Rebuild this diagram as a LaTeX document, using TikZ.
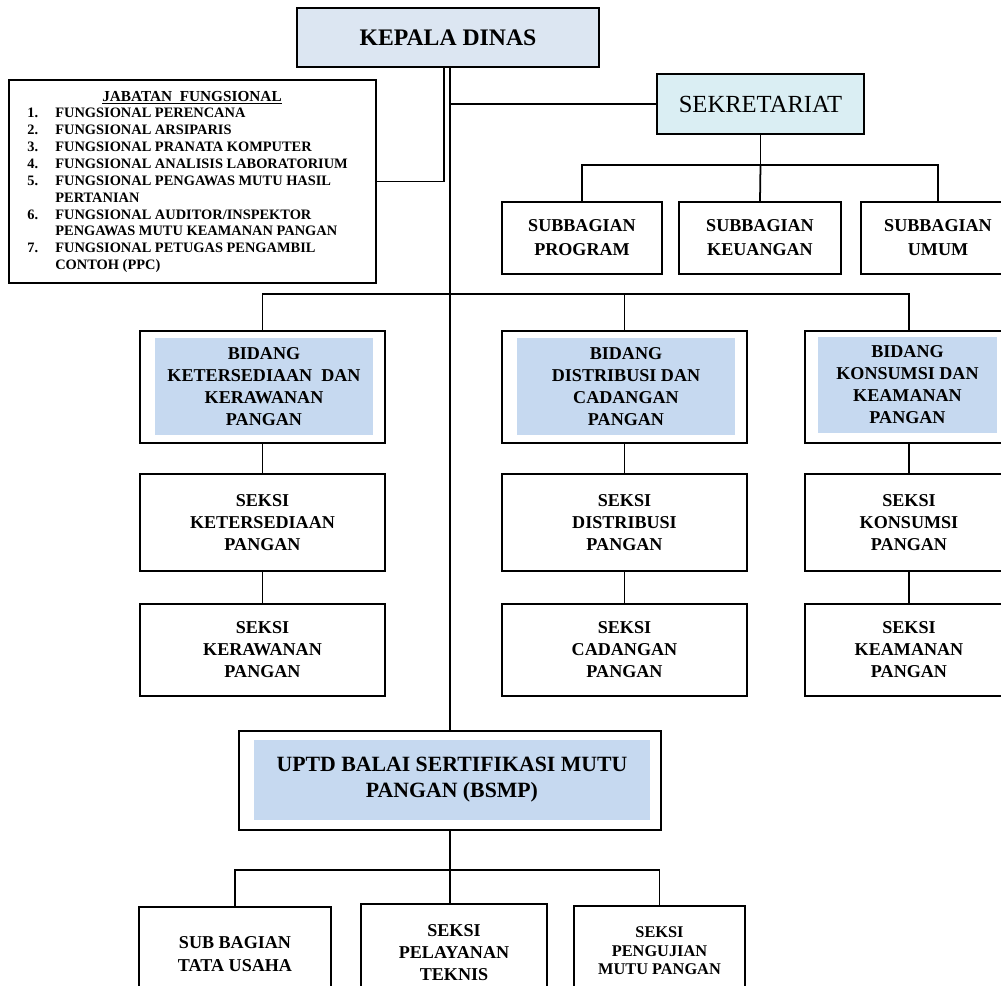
\documentclass[tikz,border=0pt]{standalone}
\usepackage{fontspec}
\setmainfont{Liberation Serif}
\usetikzlibrary{positioning}
\definecolor{kepfill}{RGB}{220,230,242}
\definecolor{sekfill}{RGB}{218,238,243}
\definecolor{bidfill}{RGB}{198,217,240}

\begin{document}
\begin{tikzpicture}[x=0.02cm,y=-0.02cm,
    box/.style={draw=black, line width=1pt, fill=white, align=center, inner sep=0pt},
    inbox/.style={fill=bidfill, align=center, inner sep=0pt},
    txt/.style={font=\bfseries\fontsize{10.3}{12.5}\selectfont},
    line/.style={black, line width=1pt}]
       \useasboundingbox (0,0) rectangle (1001,986);
       \clip (0,0) rectangle (1001,986);
       \fill[white] (0,0) rectangle (1001,986);

       % top
       \node[box, fill=kepfill, minimum width=6.04cm, minimum height=1.18cm, font=\bfseries\fontsize{13.5}{16}\selectfont] (kepala) at (448,37.5) {KEPALA DINAS};
       \node[box, fill=sekfill, minimum width=4.14cm, minimum height=1.2cm, font=\fontsize{14}{16}\selectfont] (sekre) at (760.5,104) {SEKRETARIAT};

       \node[box, minimum width=7.34cm, minimum height=4.06cm] (jabatan) at (192.5,181.5) {};
       \node[inner sep=0pt, font=\bfseries\fontsize{8.7}{9.5}\selectfont] (jabjudul) at (192,98) {\underline{JABATAN\ \ FUNGSIONAL}};
       \node[anchor=north west, align=left, inner sep=0pt, font=\bfseries\fontsize{8.2}{9.6}\selectfont] (jablist) at (27,108) {%
         \makebox[0.56cm][l]{1.}FUNGSIONAL PERENCANA\\
         \makebox[0.56cm][l]{2.}FUNGSIONAL ARSIPARIS\\
         \makebox[0.56cm][l]{3.}FUNGSIONAL PRANATA KOMPUTER\\
         \makebox[0.56cm][l]{4.}FUNGSIONAL ANALISIS LABORATORIUM\\
         \makebox[0.56cm][l]{5.}FUNGSIONAL PENGAWAS MUTU HASIL\\
         \hspace*{0.56cm}PERTANIAN\\
         \makebox[0.56cm][l]{6.}FUNGSIONAL AUDITOR/INSPEKTOR\\
         \hspace*{0.56cm}PENGAWAS MUTU KEAMANAN PANGAN\\
         \makebox[0.56cm][l]{7.}FUNGSIONAL PETUGAS PENGAMBIL\\
         \hspace*{0.56cm}CONTOH (PPC)};

       % sekretariat
       \node[box, minimum width=3.2cm, minimum height=1.44cm, font=\bfseries\fontsize{10.3}{13.6}\selectfont] (sbprog) at (582,238) {SUBBAGIAN\\PROGRAM};
       \node[box, minimum width=3.24cm, minimum height=1.44cm, font=\bfseries\fontsize{10.3}{13.6}\selectfont] (sbkeu) at (760,238) {SUBBAGIAN\\KEUANGAN};
       \node[box, minimum width=3.08cm, minimum height=1.44cm, font=\bfseries\fontsize{10.3}{13.6}\selectfont] (sbumum) at (938,238) {SUBBAGIAN\\UMUM};

       % bidang
       \node[box, minimum width=4.9cm, minimum height=2.24cm] (bid1) at (262.5,387) {};
       \node[inbox, minimum width=4.36cm, minimum height=1.94cm, txt] (bid1t) at (264,386.5) {BIDANG\\KETERSEDIAAN\ \ DAN\\KERAWANAN\\PANGAN};
       \node[box, minimum width=4.9cm, minimum height=2.24cm] (bid2) at (624.5,387) {};
       \node[inbox, minimum width=4.36cm, minimum height=1.94cm, txt] (bid2t) at (626,386.5) {BIDANG\\DISTRIBUSI DAN\\CADANGAN\\PANGAN};
       \node[box, minimum width=4.16cm, minimum height=2.24cm] (bid3) at (909,387) {};
       \node[inbox, minimum width=3.58cm, minimum height=1.94cm, txt] (bid3t) at (907.5,385) {BIDANG\\KONSUMSI DAN\\KEAMANAN\\PANGAN};

       % seksi
       \node[box, minimum width=4.9cm, minimum height=1.94cm, txt] (sk1) at (262.5,522.5) {SEKSI\\KETERSEDIAAN\\PANGAN};
       \node[box, minimum width=4.9cm, minimum height=1.94cm, txt] (sk3) at (624.5,522.5) {SEKSI\\DISTRIBUSI\\PANGAN};
       \node[box, minimum width=4.16cm, minimum height=1.94cm, txt] (sk5) at (909,522.5) {SEKSI\\KONSUMSI\\PANGAN};
       \node[box, minimum width=4.9cm, minimum height=1.84cm, txt] (sk2) at (262.5,650) {SEKSI\\KERAWANAN\\PANGAN};
       \node[box, minimum width=4.9cm, minimum height=1.84cm, txt] (sk4) at (624.5,650) {SEKSI\\CADANGAN\\PANGAN};
       \node[box, minimum width=4.16cm, minimum height=1.84cm, txt] (sk6) at (909,650) {SEKSI\\KEAMANAN\\PANGAN};

       % uptd
       \node[box, minimum width=8.44cm, minimum height=1.98cm] (uptd) at (450,780.5) {};
       \node[inbox, minimum width=7.92cm, minimum height=1.6cm, font=\bfseries\fontsize{12.4}{14.7}\selectfont] (uptdt) at (452,780) {UPTD BALAI SERTIFIKASI MUTU\\PANGAN (BSMP)};
       \node[box, minimum width=3.84cm, minimum height=1.88cm, font=\bfseries\fontsize{10.3}{13.4}\selectfont] (tu) at (235,954) {SUB BAGIAN\\TATA USAHA};
       \node[box, minimum width=3.72cm, minimum height=1.96cm, txt] (yan) at (454,953) {SEKSI\\PELAYANAN\\TEKNIS};
       \node[box, minimum width=3.42cm, minimum height=1.8cm, font=\bfseries\fontsize{9.3}{10.5}\selectfont] (uji) at (659.5,951) {SEKSI\\PENGUJIAN\\MUTU PANGAN};

       % lines
       \coordinate (kj) at (444,67);
       \draw[line] (kepala.south -| uptd.north) -- (uptd.north);
       \draw[line] (jabatan.east) -| (kj);
       \draw[line] (sekre.west) -- (sekre.west -| uptd.north);

       \draw[line] (sekre.south) -- ++(0,30) coordinate (sekbus);
       \draw[line] (sbprog.north) |- (sekbus) -| (sbumum.north);
       \draw[line] (sekbus) -- (sbkeu.north);

       \coordinate (bidbus) at (450,294);
       \draw[line] (bid1.north) |- (bidbus) -| (bid3.north);
       \draw[line] (bid2.north) -- (bid2.north |- bidbus);

       \draw[line] (bid1.south) -- (sk1.north);
       \draw[line] (sk1.south) -- (sk2.north);
       \draw[line] (bid2.south) -- (sk3.north);
       \draw[line] (sk3.south) -- (sk4.north);
       \draw[line] (bid3.south) -- (sk5.north);
       \draw[line] (sk5.south) -- (sk6.north);

       \draw[line] (uptd.south) -- ++(0,39) coordinate (upbus);
       \draw[line] (tu.north) |- (upbus) -| (uji.north);
       \draw[line] (upbus) -- (yan.north -| upbus);
      \end{tikzpicture}
\end{document}
